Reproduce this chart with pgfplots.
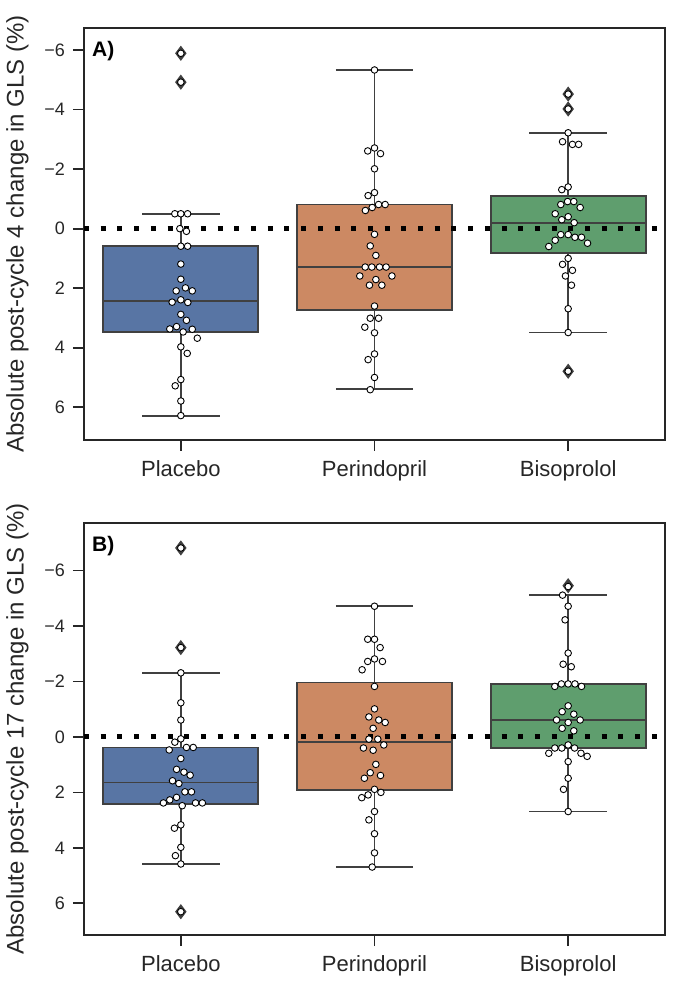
\documentclass[border=0pt]{standalone}
\usepackage{fontspec}
\setmainfont{Liberation Sans}
\usepackage{pgfplots}
\pgfplotsset{compat=1.18}
\usepgfplotslibrary{statistics}
\definecolor{cb}{HTML}{5875A4}
\definecolor{co}{HTML}{CC8963}
\definecolor{cg}{HTML}{5F9E6E}
\definecolor{eg}{HTML}{404040}
\definecolor{ax}{HTML}{262626}

\pgfplotsset{
  myaxis/.style={
    scale only axis, width=581bp, height=412bp,
    xmin=-0.5, xmax=2.5, y dir=reverse,
    xtick={0,1,2}, xticklabels={Placebo,Perindopril,Bisoprolol},
    ytick={-6,-4,-2,0,2,4,6},
    yticklabels={−6,−4,−2,0,2,4,6},
    tick pos=left, tick align=outside,
    major tick length=11bp,
    tick style={ax, line width=1.8bp},
    axis line style={ax, line width=2.5bp},
    xticklabel style={font=\fontsize{22bp}{26bp}\selectfont, text=ax, anchor=north, inner sep=0pt, yshift=-9bp},
    yticklabel style={font=\fontsize{18bp}{20bp}\selectfont, text=ax, anchor=east, inner sep=0pt, xshift=-8bp},
  },
  mybox/.style={draw=eg, fill=#1, line width=1.8bp, boxplot/draw direction=y, boxplot/box extend=0.8, boxplot/whisker extend=0.4,
    boxplot/every box/.style={draw=eg, fill=#1, line width=1.8bp},
    boxplot/every whisker/.style={draw=eg, line width=1.8bp},
    boxplot/every median/.style={draw=eg, line width=1.8bp}},
  zero/.style={black, line width=5bp, dash pattern=on 5bp off 11.7bp},
  outl/.style={only marks, mark=diamond*, mark size=6.8bp, mark options={fill=eg, draw=eg, line width=1pt}},
  pts/.style={only marks, mark=*, mark size=3.3bp, mark options={fill=white, draw=black, line width=0.9bp}},
}

\begin{document}
\begin{tikzpicture}
\path[use as bounding box] (0,0) rectangle (675bp,983bp);

% ---------------- Panel A ----------------
\begin{axis}[myaxis, at={(84bp,543bp)}, anchor=south west, ymin=-6.74, ymax=7.10]
\addplot[mybox=cb, boxplot prepared={draw position=0, lower whisker=-0.50, lower quartile=0.59, median=2.44, upper quartile=3.47, upper whisker=6.29}] coordinates {};
\addplot[mybox=co, boxplot prepared={draw position=1, lower whisker=-5.33, lower quartile=-0.81, median=1.29, upper quartile=2.72, upper whisker=5.39}] coordinates {};
\addplot[mybox=cg, boxplot prepared={draw position=2, lower whisker=-3.22, lower quartile=-1.10, median=-0.20, upper quartile=0.81, upper whisker=3.49}] coordinates {};
\addplot[zero] coordinates {(-0.5,0) (2.5,0)};
\addplot[outl] coordinates {(0,-5.89) (0,-4.92) (2,-4.52) (2,-4.02) (2,4.79)};
\addplot[pts] table {
x y
0 -5.89
0 -4.92
-0.031 -0.50
0 -0.50
0.035 -0.50
-0.005 0.00
0.029 0.09
0 0.59
0.035 0.59
0 1.19
0 1.70
-0.024 2.09
0.024 1.99
0.059 2.09
-0.045 2.47
0 2.39
0.036 2.48
0 2.88
0.029 3.08
-0.057 3.37
-0.022 3.29
0.012 3.47
0.059 3.38
0.085 3.68
0 3.97
0.033 4.19
0 5.07
-0.029 5.28
0 5.79
0 6.28
1 -5.33
1 -2.71
0.965 -2.61
1.031 -2.52
1 -2.01
1 -1.21
0.967 -1.11
1.021 -0.81
1.055 -0.81
0.988 -0.71
0.953 -0.61
1 0.19
0.978 0.58
1.007 0.90
0.952 1.29
0.986 1.29
1.026 1.29
1.060 1.29
0.924 1.59
1.090 1.59
1.007 1.71
0.974 1.90
1.038 1.90
1 2.60
0.978 3.01
1.021 3.01
0.950 3.31
1 3.50
1 4.21
0.967 4.40
1 5.00
0.978 5.41
2 -4.52
2 -4.02
2 4.79
2 -3.22
1.971 -2.92
2.022 -2.83
2.054 -2.83
2 -1.40
1.967 -1.31
1.997 -0.91
2.029 -0.91
1.962 -0.81
2.062 -0.71
1.933 -0.50
2 -0.40
1.967 -0.30
2.031 -0.20
1.962 0.20
2 0.20
1.933 0.39
2.035 0.29
2.069 0.29
1.900 0.60
2.100 0.49
2 1.00
1.971 1.20
2.022 1.40
1.986 1.59
2.017 1.90
2 2.69
2 3.49
};
\node[anchor=base west, inner sep=0pt, font=\bfseries\fontsize{21bp}{24bp}\selectfont] at ([xshift=8bp,yshift=-28bp]axis description cs:0,1) {A)};
\end{axis}

% ---------------- Panel B ----------------
\begin{axis}[myaxis, at={(84bp,48bp)}, anchor=south west, ymin=-7.71, ymax=7.14]
\addplot[mybox=cb, boxplot prepared={draw position=0, lower whisker=-2.31, lower quartile=0.38, median=1.64, upper quartile=2.42, upper whisker=4.58}] coordinates {};
\addplot[mybox=co, boxplot prepared={draw position=1, lower whisker=-4.71, lower quartile=-1.96, median=0.19, upper quartile=1.91, upper whisker=4.69}] coordinates {};
\addplot[mybox=cg, boxplot prepared={draw position=2, lower whisker=-5.11, lower quartile=-1.91, median=-0.61, upper quartile=0.40, upper whisker=2.69}] coordinates {};
\addplot[zero] coordinates {(-0.5,0) (2.5,0)};
\addplot[outl] coordinates {(0,-6.81) (0,-3.22) (0,6.30) (2,-5.45)};
\addplot[pts] table {
x y
0 -6.81
0 -3.22
0 6.30
0 -2.31
0 -1.23
0 -0.61
0 0.07
-0.031 0.19
0.029 0.38
0.064 0.38
-0.060 0.47
0 0.78
-0.022 1.17
0.016 1.27
0.048 1.38
-0.043 1.58
-0.010 1.68
0.021 1.98
0.055 1.98
-0.022 2.18
-0.057 2.27
-0.090 2.38
0.007 2.48
0.076 2.38
0.111 2.38
0 3.17
-0.033 3.29
0 3.98
-0.028 4.28
0 4.58
1 -4.71
0.965 -3.52
1 -3.52
1.029 -3.22
1 -2.81
0.965 -2.72
1.041 -2.72
0.936 -2.42
1 -1.82
1 -1.01
0.971 -0.72
1.022 -0.61
1.055 -0.52
0.993 -0.31
0.971 0.08
1.017 0.08
1.048 0.29
0.943 0.40
0.993 0.48
1.007 0.99
0.978 1.29
1.031 1.39
0.948 1.49
1 1.89
1.033 2.00
0.967 2.09
0.934 2.19
1 2.69
0.971 2.99
1 3.49
1 4.18
0.988 4.69
2 -5.42
1.971 -5.11
2 -4.71
1.984 -4.22
2 -3.02
1.974 -2.62
2.016 -2.53
1.931 -1.82
1.965 -1.91
2 -1.91
2.035 -1.91
2.069 -1.82
2 -1.12
1.969 -0.91
2.029 -0.82
1.940 -0.61
2.062 -0.61
2 -0.52
1.969 -0.31
2.029 -0.22
2 0.29
1.967 0.40
2.033 0.40
1.931 0.40
1.900 0.59
2.066 0.59
2.098 0.70
2 0.89
2 1.49
1.976 1.89
2 2.69
};
\node[anchor=base west, inner sep=0pt, font=\bfseries\fontsize{21bp}{24bp}\selectfont] at ([xshift=8bp,yshift=-28bp]axis description cs:0,1) {B)};
\end{axis}

\node[rotate=90, anchor=base, inner sep=0pt, text=ax, font=\fontsize{24bp}{28bp}\selectfont] at (23.5bp,749bp) {Absolute post-cycle 4 change in GLS (\%)};
\node[rotate=90, anchor=base, inner sep=0pt, text=ax, font=\fontsize{24bp}{28bp}\selectfont] at (23.5bp,254bp) {Absolute post-cycle 17 change in GLS (\%)};
\end{tikzpicture}
\end{document}
